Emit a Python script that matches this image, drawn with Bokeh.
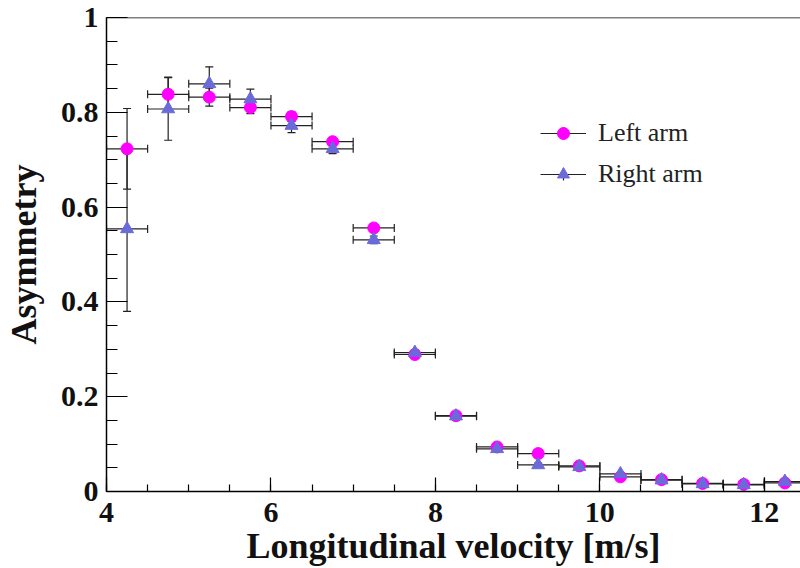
import numpy as np
from bokeh.plotting import figure
from bokeh.models import (ColumnDataSource, Whisker, TeeHead, FixedTicker, Span,
                          Legend, LegendItem)
from bokeh.embed import file_html
from bokeh.resources import INLINE

# ---------------- data ----------------
bin_centers = [4.25, 4.75, 5.25, 5.75, 6.25, 6.75, 7.25, 7.75, 8.25, 8.75,
               9.25, 9.75, 10.25, 10.75, 11.25, 11.75, 12.25]
bin_half_width = 0.25

left_arm = [0.723, 0.838, 0.832, 0.810, 0.791, 0.738, 0.556, 0.289, 0.160, 0.094,
            0.080, 0.054, 0.031, 0.025, 0.017, 0.015, 0.018]
left_err = [0.085, 0.036, 0.019, 0.013, 0.010, 0.008, 0.007, 0.006, 0.005, 0.004,
            0.004, 0.003, 0.003, 0.002, 0.002, 0.002, 0.002]

right_arm = [0.554, 0.807, 0.860, 0.828, 0.772, 0.723, 0.531, 0.293, 0.159, 0.090,
             0.056, 0.052, 0.037, 0.024, 0.016, 0.014, 0.021]
right_err = [0.174, 0.066, 0.036, 0.021, 0.015, 0.010, 0.008, 0.006, 0.005, 0.004,
             0.004, 0.003, 0.003, 0.002, 0.002, 0.002, 0.002]

x_major = [4, 6, 8, 10, 12]
x_minor = [4 + 0.5 * i for i in range(18)]
y_major = [0, 0.2, 0.4, 0.6, 0.8, 1.0]
y_labels = ["0", "0.2", "0.4", "0.6", "0.8", "1"]
y_minor = [0.05 * i for i in range(21)]

series_names = ["Left arm", "Right arm"]
x_title = "Longitudinal velocity [m/s]"
y_title = "Asymmetry"

# ---------------- figure ----------------
p = figure(width=800, height=568, output_backend="svg", toolbar_location=None,
           x_range=(4, 12.44), y_range=(0, 1),
           min_border_left=102, min_border_right=0, min_border_top=17,
           min_border_bottom=77)
p.outline_line_color = None
p.grid.visible = False
p.background_fill_color = "white"
p.border_fill_color = "white"

tick_font = "Liberation Serif"
for ax in (p.xaxis[0], p.yaxis[0]):
    ax.axis_line_color = "black"
    ax.axis_line_width = 1.5
    ax.major_tick_line_color = "black"
    ax.minor_tick_line_color = "black"
    ax.major_tick_line_width = 1.2
    ax.minor_tick_line_width = 1.2
    ax.major_tick_out = 0
    ax.minor_tick_out = 0
    ax.major_label_text_font = tick_font
    ax.major_label_text_font_style = "bold"
    ax.major_label_text_font_size = "30px"
    ax.major_label_text_color = "#111111"
    ax.axis_label_text_font = tick_font
    ax.axis_label_text_font_style = "bold"
    ax.axis_label_text_font_size = "36px"
    ax.axis_label_text_color = "#111111"

p.xaxis.ticker = FixedTicker(ticks=x_major, minor_ticks=x_minor)
p.xaxis.major_tick_in = 14
p.xaxis.minor_tick_in = 7
p.xaxis.major_label_standoff = 11
p.xaxis.axis_label = x_title
p.xaxis.axis_label_standoff = 1

p.yaxis.ticker = FixedTicker(ticks=y_major, minor_ticks=y_minor)
p.yaxis.major_label_overrides = {t: s for t, s in zip(y_major, y_labels)}
p.yaxis.major_tick_in = 21
p.yaxis.minor_tick_in = 11
p.yaxis.major_label_standoff = 8
p.yaxis.axis_label = y_title
p.yaxis.axis_label_standoff = 14

p.add_layout(Span(location=1, dimension="width", line_color="black", line_width=1.5))

# ---------------- series ----------------
colors = ["#ff00ff", "#6a6ad9"]
markers = ["circle", "triangle"]
legend_items = []
nan = float("nan")
for name, vals, errs, col, mk in zip(series_names, [left_arm, right_arm],
                                    [left_err, right_err], colors, markers):
    x = np.array(bin_centers)
    y = np.array(vals)
    e = np.array(errs)
    src = ColumnDataSource(dict(x=x, y=y, ylo=y - e, yhi=y + e,
                                xlo=x - bin_half_width, xhi=x + bin_half_width))
    for dim, base, lo, hi in (("width", "y", "xlo", "xhi"), ("height", "x", "ylo", "yhi")):
        w = Whisker(source=src, base=base, lower=lo, upper=hi, dimension=dim,
                    line_color="#222222", line_width=1.2,
                    upper_head=TeeHead(size=8, line_color="#222222", line_width=1.2),
                    lower_head=TeeHead(size=8, line_color="#222222", line_width=1.2))
        p.add_layout(w)
    size = 12 if mk == "circle" else 13
    r = p.scatter("x", "y", source=src, marker=mk, size=size,
                  fill_color=col, line_color=col)
    # legend-only glyphs (no visible data): horizontal and vertical error-bar strokes
    hl = p.segment(x0=[nan], y0=[nan], x1=[nan], y1=[nan], line_color="#222222", line_width=1.2)
    vl = p.scatter(x=[nan], y=[nan], marker="cross", line_color="#222222", line_width=1.2)
    legend_items.append(LegendItem(label=name, renderers=[hl, vl, r]))

legend = Legend(items=legend_items, location=(434, 302), orientation="vertical",
                glyph_width=46, glyph_height=30, label_height=30, spacing=11,
                label_standoff=12, padding=0, margin=0,
                border_line_color=None, background_fill_alpha=0,
                label_text_font="Liberation Serif", label_text_font_size="26px",
                label_text_color="#222222")
p.add_layout(legend)

open("out.html", "w").write(file_html(p, INLINE))
